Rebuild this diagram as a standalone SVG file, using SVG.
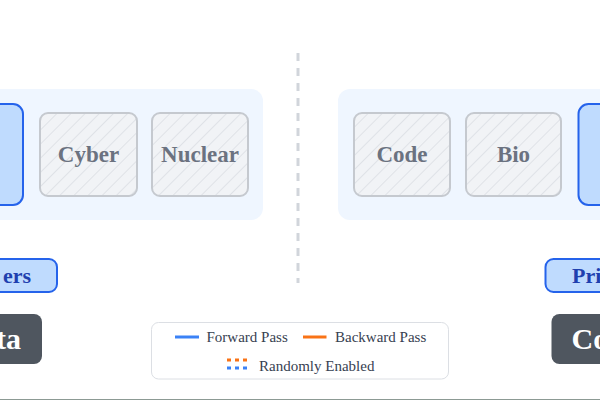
<svg xmlns="http://www.w3.org/2000/svg" width="600" height="400" viewBox="0 0 600 400">
<style>
.panel{fill:#eff6ff}
.active{fill:#bfdbfe;stroke:#2563eb;stroke-width:2}
.off{fill:url(#hatch);stroke:#c5c9cf;stroke-width:2}
.offt{font-family:"Liberation Serif",serif;font-weight:bold;font-size:23px;fill:#6b7280;text-anchor:middle}
.pill{fill:#bfdbfe;stroke:#2563eb;stroke-width:2}
.pillt{font-family:"Liberation Serif",serif;font-weight:bold;font-size:22px;fill:#1e40af}
.dark{fill:#4f565f}
.darkt{font-family:"Liberation Serif",serif;font-weight:bold;font-size:30px;fill:#ffffff}
.leg{font-family:"Liberation Serif",serif;font-size:15px;fill:#374151}
</style>
<defs>
<pattern id="hatch" patternUnits="userSpaceOnUse" width="10" height="10" patternTransform="rotate(45)">
<rect width="10" height="10" fill="#f1f3f6"/>
<line x1="0" y1="0" x2="0" y2="10" stroke="#dfe2e7" stroke-width="2"/>
</pattern>
</defs>
<rect width="600" height="400" fill="#ffffff"/>
<g id="left-panel">
<rect class="panel" x="-20" y="89" width="283" height="131" rx="12"/>
</g>
<g id="left-active">
<rect class="active" x="-20" y="104" width="43" height="101" rx="10"/>
</g>
<g id="cyber">
<rect class="off" x="40" y="113" width="97" height="83" rx="8"/>
<text class="offt" x="88.5" y="162">Cyber</text>
</g>
<g id="nuclear">
<rect class="off" x="152" y="113" width="96" height="83" rx="8"/>
<text class="offt" x="200" y="162">Nuclear</text>
</g>
<g id="right-panel">
<rect class="panel" x="338" y="89" width="290" height="131" rx="12"/>
</g>
<g id="code">
<rect class="off" x="354" y="113" width="96" height="83" rx="8"/>
<text class="offt" x="402" y="162">Code</text>
</g>
<g id="bio">
<rect class="off" x="466" y="113" width="95" height="83" rx="8"/>
<text class="offt" x="513.5" y="162">Bio</text>
</g>
<g id="right-active">
<rect class="active" x="578.5" y="104" width="43" height="101" rx="10"/>
</g>
<g id="connectors">
<line x1="298" y1="53" x2="298" y2="283" stroke="#d1d5db" stroke-width="3" stroke-dasharray="8 7"/>
</g>
<g id="left-pill">
<rect class="pill" x="-20" y="259" width="77" height="33" rx="8"/>
<text class="pillt" x="31" y="283" text-anchor="end">ers</text>
</g>
<g id="left-dark">
<rect class="dark" x="-20" y="314" width="62" height="50" rx="8"/>
<text class="darkt" x="21" y="349" text-anchor="end">ta</text>
</g>
<g id="right-pill">
<rect class="pill" x="545.5" y="259" width="80" height="33" rx="8"/>
<text class="pillt" x="572" y="283">Pri</text>
</g>
<g id="right-dark">
<rect class="dark" x="551.5" y="314" width="80" height="50" rx="8"/>
<text class="darkt" x="571.5" y="349">Co</text>
</g>
<g id="legend">
<rect x="151.5" y="322.5" width="297" height="56.5" rx="7" fill="#ffffff" stroke="#dcdfe4" stroke-width="1"/>
<line x1="175" y1="337" x2="199" y2="337" stroke="#3b82f6" stroke-width="3"/>
<text class="leg" x="206.5" y="342">Forward Pass</text>
<line x1="303" y1="337" x2="326.5" y2="337" stroke="#f97316" stroke-width="3"/>
<text class="leg" x="335" y="342">Backward Pass</text>
<line x1="227" y1="360" x2="247" y2="360" stroke="#f97316" stroke-width="3" stroke-dasharray="4 4"/>
<line x1="227" y1="368" x2="247" y2="368" stroke="#3b82f6" stroke-width="3" stroke-dasharray="4 4"/>
<text class="leg" x="259" y="371">Randomly Enabled</text>
</g>
<rect x="0" y="399" width="600" height="1" fill="#8c9a94"/>
</svg>
